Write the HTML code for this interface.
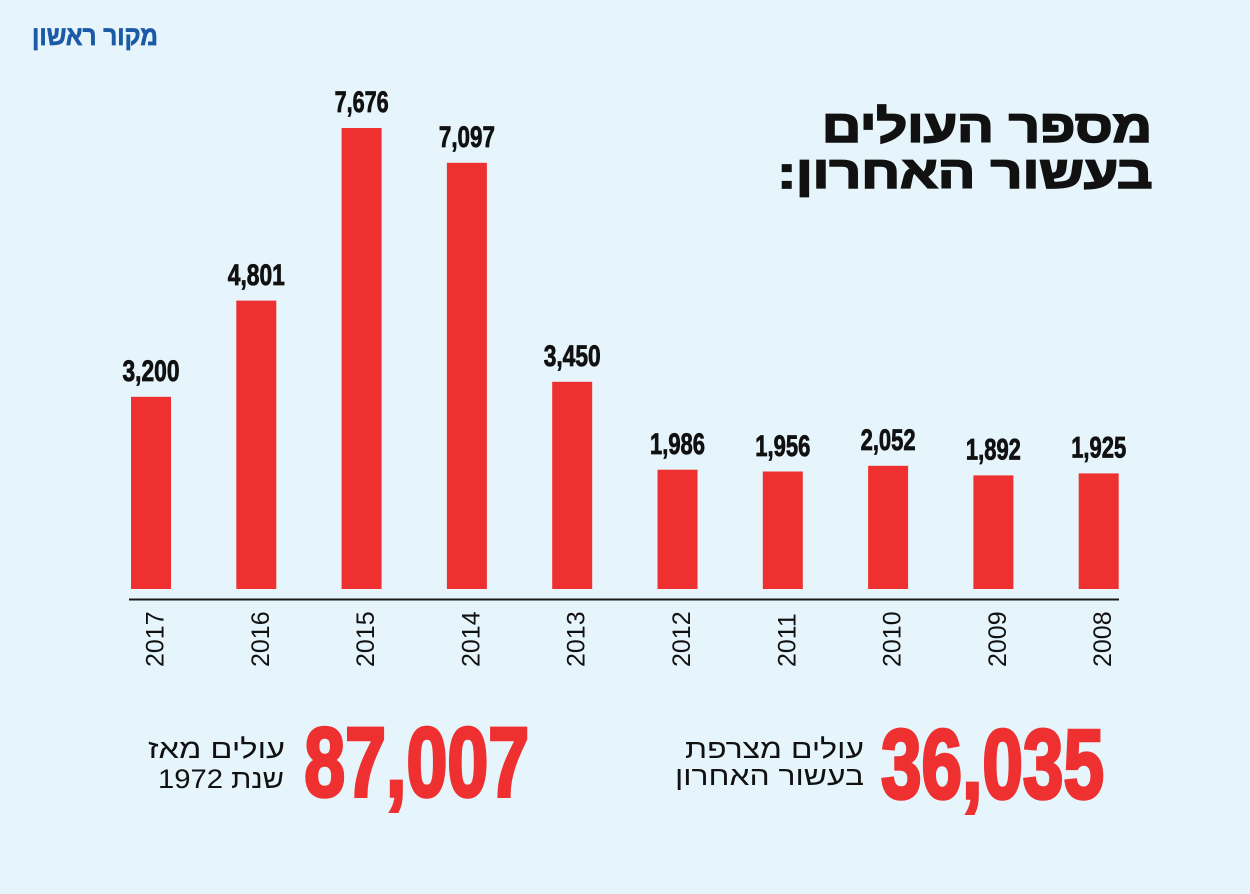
<!DOCTYPE html>
<html>
<head>
<meta charset="utf-8">
<style>
  html,body{margin:0;padding:0;background:#e6f5fb;}
  svg{display:block;}
  .heb{direction:rtl;unicode-bidi:embed;}
</style>
</head>
<body>
<svg width="1250" height="894" viewBox="0 0 1250 894" xmlns="http://www.w3.org/2000/svg">
  <rect x="0" y="0" width="1250" height="894" fill="#e6f5fb"/>

  <!-- logo -->
  <text class="heb" x="95" y="45" text-anchor="middle" textLength="126" lengthAdjust="spacingAndGlyphs"
        font-family="'Liberation Sans','DejaVu Sans',sans-serif" font-weight="bold" font-size="27" fill="#1b5aa6" stroke="#1b5aa6" stroke-width="0.7">מקור ראשון</text>

  <!-- title -->
  <g font-family="'Liberation Sans','DejaVu Sans',sans-serif" font-weight="bold" font-size="45" fill="#111" stroke="#111" stroke-width="1.8">
    <text class="heb" x="987" y="142" text-anchor="middle" textLength="330" lengthAdjust="spacingAndGlyphs">מספר העולים</text>
    <text class="heb" x="965" y="188" text-anchor="middle" textLength="375" lengthAdjust="spacingAndGlyphs">בעשור האחרון:</text>
  </g>

  <!-- bars -->
  <g fill="#ee3130">
    <rect x="131" y="396.8" width="40" height="192.2"/>
    <rect x="236.3" y="300.6" width="40" height="288.4"/>
    <rect x="341.6" y="128" width="40" height="461"/>
    <rect x="446.9" y="162.8" width="40" height="426.2"/>
    <rect x="552.2" y="381.8" width="40" height="207.2"/>
    <rect x="657.5" y="469.7" width="40" height="119.3"/>
    <rect x="762.8" y="471.5" width="40" height="117.5"/>
    <rect x="868.1" y="465.8" width="40" height="123.2"/>
    <rect x="973.4" y="475.4" width="40" height="113.6"/>
    <rect x="1078.7" y="473.4" width="40" height="115.6"/>
  </g>

  <!-- axis -->
  <rect x="129" y="598.5" width="990" height="2" fill="#1a1a1a"/>

  <!-- value labels -->
  <g font-family="'Liberation Sans Narrow','Liberation Sans',sans-serif" font-weight="bold" font-size="30" fill="#111" stroke="#111" stroke-width="0.8" text-anchor="middle">
    <text x="151" y="381" textLength="57" lengthAdjust="spacingAndGlyphs">3,200</text>
    <text x="256.3" y="285" textLength="57" lengthAdjust="spacingAndGlyphs">4,801</text>
    <text x="361.6" y="112" textLength="54" lengthAdjust="spacingAndGlyphs">7,676</text>
    <text x="466.9" y="147" textLength="56" lengthAdjust="spacingAndGlyphs">7,097</text>
    <text x="572.2" y="366" textLength="57" lengthAdjust="spacingAndGlyphs">3,450</text>
    <text x="677.5" y="454" textLength="55" lengthAdjust="spacingAndGlyphs">1,986</text>
    <text x="782.8" y="456" textLength="55" lengthAdjust="spacingAndGlyphs">1,956</text>
    <text x="888.1" y="450" textLength="55" lengthAdjust="spacingAndGlyphs">2,052</text>
    <text x="993.4" y="459.5" textLength="55" lengthAdjust="spacingAndGlyphs">1,892</text>
    <text x="1098.7" y="457.5" textLength="55" lengthAdjust="spacingAndGlyphs">1,925</text>
  </g>

  <!-- year labels -->
  <g font-family="'Liberation Sans',sans-serif" font-size="25" fill="#111">
    <text transform="translate(163.5,667) rotate(-90)">2017</text>
    <text transform="translate(268.8,667) rotate(-90)">2016</text>
    <text transform="translate(374.1,667) rotate(-90)">2015</text>
    <text transform="translate(479.4,667) rotate(-90)">2014</text>
    <text transform="translate(584.7,667) rotate(-90)">2013</text>
    <text transform="translate(690,667) rotate(-90)">2012</text>
    <text transform="translate(795.3,667) rotate(-90)">2011</text>
    <text transform="translate(900.6,667) rotate(-90)">2010</text>
    <text transform="translate(1005.9,667) rotate(-90)">2009</text>
    <text transform="translate(1111.2,667) rotate(-90)">2008</text>
  </g>

  <!-- big numbers -->
  <g font-family="'Liberation Sans Narrow','Liberation Sans',sans-serif" font-weight="bold" font-size="98" fill="#ee3130" stroke="#ee3130" stroke-width="3.5" text-anchor="middle">
    <text x="416.7" y="796" textLength="225" lengthAdjust="spacingAndGlyphs">87,007</text>
    <text x="992.5" y="798" textLength="223" lengthAdjust="spacingAndGlyphs">36,035</text>
  </g>

  <!-- stats captions -->
  <g font-family="'Liberation Sans','DejaVu Sans',sans-serif" font-size="27" fill="#111" text-anchor="middle">
    <text class="heb" x="216.5" y="758" textLength="137" lengthAdjust="spacingAndGlyphs">עולים מאז</text>
    <text class="heb" x="221" y="788" textLength="126" lengthAdjust="spacingAndGlyphs">שנת 1972</text>
    <text class="heb" x="774.5" y="758" textLength="179" lengthAdjust="spacingAndGlyphs">עולים מצרפת</text>
    <text class="heb" x="769.5" y="785" textLength="189" lengthAdjust="spacingAndGlyphs">בעשור האחרון</text>
  </g>
</svg>
</body>
</html>
